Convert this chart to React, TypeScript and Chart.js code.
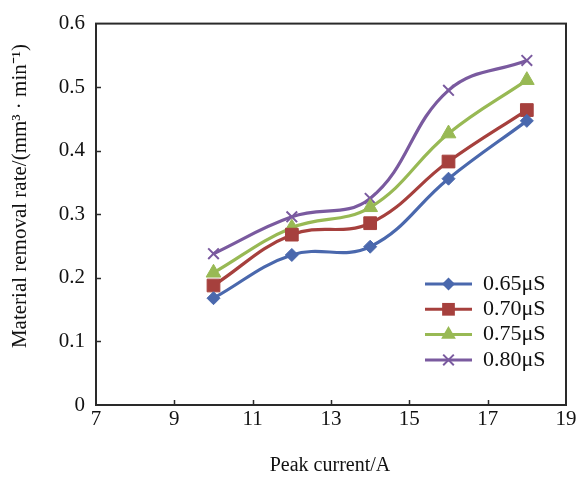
import React, { useEffect, useRef } from 'react';
import { Chart, registerables } from 'chart.js';

Chart.register(...registerables);

const peakCurrent = [10, 12, 14, 16, 18];
const seriesLabels = ['0.65μS', '0.70μS', '0.75μS', '0.80μS'];
const s065 = [0.168, 0.236, 0.249, 0.356, 0.447];
const s070 = [0.188, 0.268, 0.286, 0.383, 0.464];
const s075 = [0.208, 0.279, 0.311, 0.427, 0.511];
const s080 = [0.238, 0.296, 0.325, 0.495, 0.542];
const xTicks = [7, 9, 11, 13, 15, 17, 19];
const yTicks = [0, 0.1, 0.2, 0.3, 0.4, 0.5, 0.6];
const xTitle = 'Peak current/A';
const yTitle = 'Material removal rate/(mm³ · min⁻¹)';

const colors = ['#4a68ad', '#a6403d', '#98b954', '#7a5a9f'];
const pointStyles = ['rectRot', 'rect', 'triangle', 'crossRot'];
const pointRadii = [6.5, 9, 8.5, 7.5];

const FONT = '"Liberation Serif", "Times New Roman", serif';

function drawMarker(ctx: CanvasRenderingContext2D, style: string, x: number, y: number, r: number, color: string) {
  ctx.save();
  ctx.fillStyle = color;
  ctx.strokeStyle = color;
  ctx.beginPath();
  if (style === 'rectRot') {
    ctx.moveTo(x, y - r);
    ctx.lineTo(x + r, y);
    ctx.lineTo(x, y + r);
    ctx.lineTo(x - r, y);
    ctx.closePath();
    ctx.fill();
  } else if (style === 'rect') {
    const s = Math.SQRT1_2 * r;
    ctx.rect(x - s, y - s, 2 * s, 2 * s);
    ctx.fill();
  } else if (style === 'triangle') {
    const side = (3 * r) / Math.sqrt(3);
    const h = (side * Math.sqrt(3)) / 2;
    ctx.moveTo(x, y - r);
    ctx.lineTo(x + side / 2, y - r + h);
    ctx.lineTo(x - side / 2, y - r + h);
    ctx.closePath();
    ctx.fill();
  } else {
    const d = Math.SQRT1_2 * r;
    ctx.lineWidth = 2;
    ctx.moveTo(x - d, y - d);
    ctx.lineTo(x + d, y + d);
    ctx.moveTo(x - d, y + d);
    ctx.lineTo(x + d, y - d);
    ctx.stroke();
  }
  ctx.restore();
}

const framePlugin = {
  id: 'frameAndTitles',
  afterDraw(chart: any) {
    const { ctx, chartArea } = chart;
    const { left, right, top, bottom } = chartArea;
    const xs = chart.scales.x;
    const ys = chart.scales.y;
    ctx.save();
    ctx.strokeStyle = '#2a2a2a';
    ctx.lineWidth = 2;
    ctx.strokeRect(left, top, right - left, bottom - top);
    ctx.lineWidth = 1.5;
    ctx.beginPath();
    xTicks.slice(1, -1).forEach((v) => {
      const px = Math.round(xs.getPixelForValue(v)) + 0.5;
      ctx.moveTo(px, bottom);
      ctx.lineTo(px, bottom - 5);
    });
    yTicks.slice(1, -1).forEach((v) => {
      const py = Math.round(ys.getPixelForValue(v)) + 0.5;
      ctx.moveTo(left, py);
      ctx.lineTo(left + 5, py);
    });
    ctx.stroke();

    // titles
    ctx.fillStyle = '#111';
    ctx.font = `20px ${FONT}`;
    ctx.textAlign = 'center';
    ctx.textBaseline = 'middle';
    ctx.fillText(xTitle, 330, 466);
    ctx.save();
    ctx.translate(20, 196);
    ctx.rotate(-Math.PI / 2);
    ctx.font = `21px ${FONT}`;
    ctx.fillText(yTitle, 0, 0);
    ctx.restore();

    // legend
    ctx.font = `22px ${FONT}`;
    chart.data.datasets.forEach((ds: any, i: number) => {
      const ly = 284 + i * 25.3;
      ctx.strokeStyle = ds.borderColor;
      ctx.lineWidth = 3;
      ctx.beginPath();
      ctx.moveTo(425, ly);
      ctx.lineTo(472, ly);
      ctx.stroke();
      drawMarker(ctx, ds.pointStyle, 448.5, ly, ds.pointRadius, ds.borderColor);
      ctx.fillStyle = '#111';
      ctx.textAlign = 'left';
      ctx.textBaseline = 'middle';
      ctx.fillText(ds.label, 483, ly);
    });
    ctx.restore();
  },
};

export default function App() {
  const ref = useRef<HTMLCanvasElement | null>(null);
  useEffect(() => {
    if (!ref.current) return;
    const seriesValues = [s065, s070, s075, s080];
    const chart = new Chart(ref.current, {
      type: 'line',
      data: {
        datasets: seriesValues.map((vals, i) => ({
          label: seriesLabels[i],
          data: peakCurrent.map((x, j) => ({ x, y: vals[j] })),
          borderColor: colors[i],
          backgroundColor: colors[i],
          pointBackgroundColor: colors[i],
          pointBorderColor: colors[i],
          pointStyle: pointStyles[i],
          pointRadius: pointRadii[i],
          pointBorderWidth: i === 3 ? 2 : 1,
          borderWidth: 3.2,
          tension: 0.4,
          fill: false,
        })),
      },
      options: {
        animation: false,
        responsive: false,
        events: [],
        layout: { padding: { top: 16, right: 14, left: 0, bottom: 0 } },
        plugins: { legend: { display: false }, tooltip: { enabled: false } },
        scales: {
          x: {
            type: 'linear',
            min: 7,
            max: 19,
            afterBuildTicks: (s: any) => {
              s.ticks = xTicks.map((v) => ({ value: v }));
            },
            afterFit: (s: any) => {
              s.height = 76;
            },
            grid: { display: false, drawTicks: false },
            border: { display: false },
            ticks: {
              padding: 2,
              color: '#111',
              font: { family: FONT, size: 21 },
              maxRotation: 0,
              autoSkip: false,
              callback: (v: any) => String(v),
            },
          },
          y: {
            type: 'linear',
            min: 0,
            max: 0.6,
            afterBuildTicks: (s: any) => {
              s.ticks = yTicks.map((v) => ({ value: v }));
            },
            afterFit: (s: any) => {
              s.width = 96;
            },
            grid: { display: false, drawTicks: false },
            border: { display: false },
            ticks: {
              padding: 11,
              color: '#111',
              font: { family: FONT, size: 21 },
              autoSkip: false,
              callback: (v: any) => (v === 0 ? '0' : Number(v).toFixed(1)),
            },
          },
        },
      } as any,
      plugins: [framePlugin],
    });
    return () => chart.destroy();
  }, []);
  return (
    <div style={{ position: 'absolute', left: 0, top: 0, width: 580, height: 481, background: '#fff' }}>
      <canvas ref={ref} width={580} height={481} style={{ width: 580, height: 481, display: 'block' }} />
    </div>
  );
}
